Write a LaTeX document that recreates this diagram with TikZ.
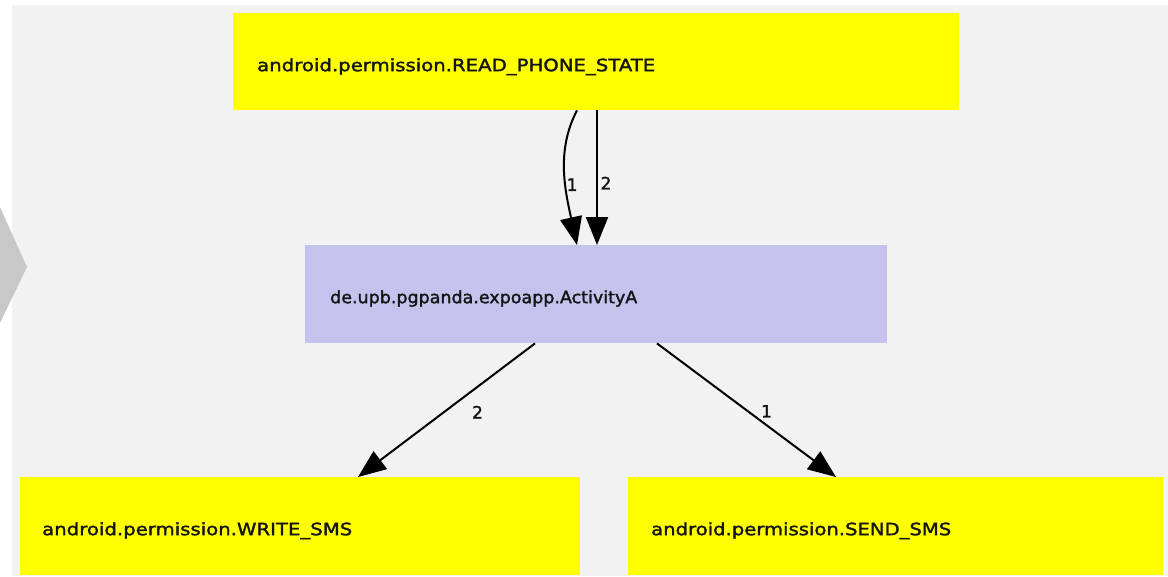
\documentclass[tikz,border=0pt]{standalone}
\usepackage{fontspec}
\setmainfont{DejaVu Sans}
\newfontfamily\lblfont{DejaVu Sans}[FakeBold=1.6]
\usepackage{graphicx}
\usetikzlibrary{arrows.meta,calc}

\definecolor{panelgray}{HTML}{F2F2F2}
\definecolor{chevgray}{HTML}{C8C8C8}
\definecolor{permyellow}{HTML}{FFFF00}
\definecolor{actlilac}{HTML}{C5C3EE}
\definecolor{inkdark}{HTML}{141414}

% label text stretched to a given width, natural height kept
\newcommand{\fitlabel}[2]{\resizebox{#1}{\height}{#2}}

\tikzset{
  boxbase/.style={rectangle, draw=none, anchor=north west, align=left,
    inner ysep=0pt, text height=18pt, text depth=0pt, text=inkdark,
    font=\lblfont\fontsize{17}{20}\selectfont},
  permbox/.style={boxbase, fill=permyellow},
  actbox/.style={boxbase, fill=actlilac},
  edge/.style={draw=black, line width=2pt,
    -{Triangle[length=28pt,width=22pt]}},
  elbl/.style={inner sep=0pt, text=inkdark, font=\lblfont\fontsize{17}{20}\selectfont}
}

\begin{document}
\begin{tikzpicture}[x=1pt,y=-1pt]
  \useasboundingbox (0,0) rectangle (1168,576);
  % backdrop, panel and side chevron
  \fill[white] (0,0) rectangle (1168,576);
  \fill[panelgray] (12,5) rectangle (1168,576);
  \fill[chevgray] (0,207) -- (27,267) -- (0,323) -- cycle;

  % nodes
  \node[permbox, inner xsep=24pt, text width=678pt, minimum height=97pt,
        text height=19pt]
    (read) at (233,13) {\fitlabel{398pt}{android.permission.READ\_PHONE\_STATE}};
  \node[actbox, inner xsep=25pt, text width=532pt, minimum height=98pt]
    (act) at (305,245) {\fitlabel{307pt}{de.upb.pgpanda.expoapp.ActivityA}};
  \node[permbox, inner xsep=22pt, text width=516pt, minimum height=98pt]
    (write) at (20,477) {\fitlabel{310pt}{android.permission.WRITE\_SMS}};
  \node[permbox, inner xsep=23pt, text width=489pt, minimum height=98pt]
    (send) at (628,477) {\fitlabel{300pt}{android.permission.SEND\_SMS}};

  % connector end points on the box borders
  \coordinate (r1) at ($(read.south west)+(344,0)$);
  \coordinate (r2) at ($(read.south west)+(364,0)$);
  \coordinate (a1) at ($(act.north west)+(272,0)$);
  \coordinate (a2) at ($(act.north west)+(292,0)$);
  \coordinate (a3) at ($(act.south west)+(230,0)$);
  \coordinate (a4) at ($(act.south west)+(352,0)$);
  \coordinate (w1) at ($(write.north west)+(338,0)$);
  \coordinate (s1) at ($(send.north west)+(208,0)$);

  % connectors
  \draw[edge] (r1) .. controls ($(r1)+(-21,40)$) and ($(a1)+(-12,-55)$) .. (a1)
    node[elbl, pos=0.55, xshift=7pt, yshift=-6pt] (l1) {1};
  \draw[edge] (r2) -- (a2)
    node[elbl, pos=0.54, xshift=9pt] (l2) {2};
  \draw[edge] (a3) -- (w1)
    node[elbl, pos=0.5, xshift=31pt, yshift=-2pt] (l3) {2};
  \draw[edge] (a4) -- (s1)
    node[elbl, pos=0.5, xshift=20pt, yshift=-1pt] (l4) {1};
\end{tikzpicture}
\end{document}
